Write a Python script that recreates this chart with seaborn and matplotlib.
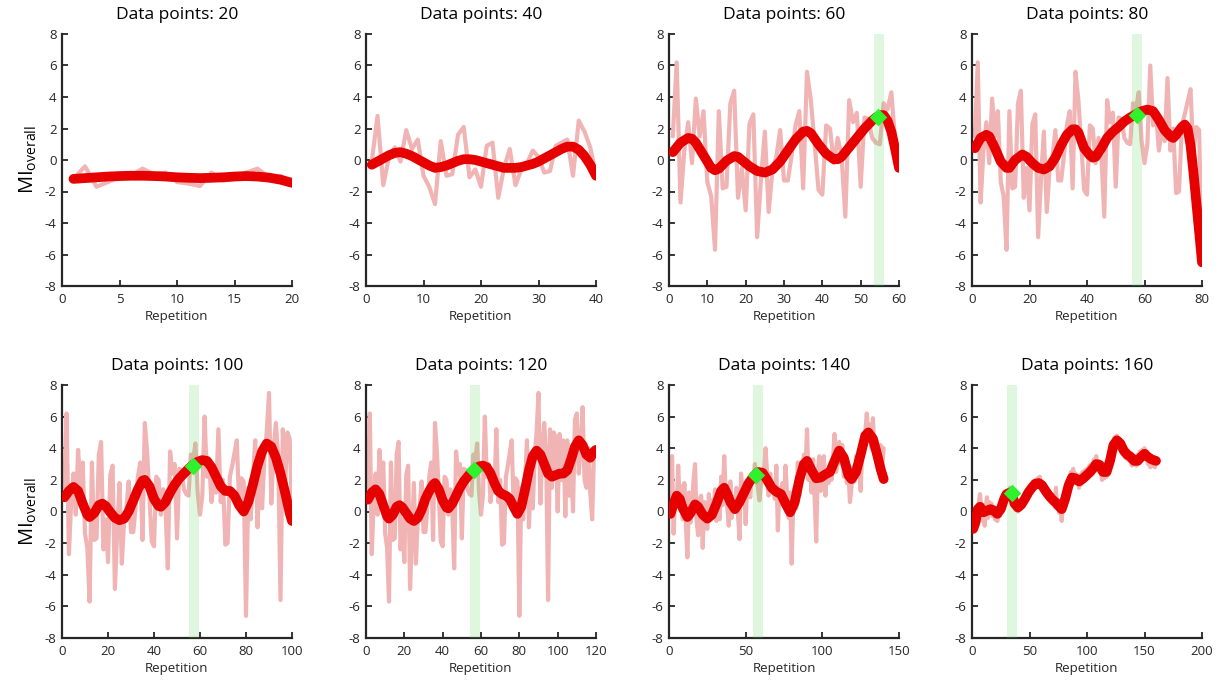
import numpy as np
import matplotlib
matplotlib.use("Agg")
import matplotlib.pyplot as plt
import seaborn as sns

# ---------------- data ----------------
raw20 = [-1.2, -0.4, -1.7, -1.4, -1.1, -1.0, -0.55, -0.9, -0.8, -1.4,
         -1.5, -1.65, -0.8, -1.3, -1.2, -0.8, -0.55, -1.1, -1.0, -1.5]
smooth20 = [-1.2, -1.15, -1.1, -1.05, -1.02, -1.0, -1.0, -1.02, -1.05, -1.1,
            -1.13, -1.15, -1.13, -1.1, -1.05, -1.02, -1.05, -1.12, -1.25, -1.45]

raw40 = [-0.1, 2.8, -1.6, 0.2, 0.8, -0.1, 1.9, 0.7, 1.3, -1.0,
         -1.7, -2.8, 1.2, -1.0, -0.9, 1.6, 2.1, -1.1, -0.6, -1.7,
         0.9, 1.1, -2.4, -0.5, 0.7, -1.6, -0.6, -0.2, 0.6, 0.2,
         -0.8, -0.7, 0.9, 1.1, 1.3, -1.0, 2.5, 1.8, 0.8, -1.0]
smooth40 = [-0.3, -0.1, 0.1, 0.3, 0.45, 0.5, 0.4, 0.25, 0.05, -0.15,
            -0.35, -0.5, -0.45, -0.35, -0.2, -0.05, 0.05, 0.05, 0.0, -0.1,
            -0.2, -0.3, -0.4, -0.5, -0.5, -0.5, -0.45, -0.35, -0.25, -0.1,
            0.1, 0.3, 0.5, 0.7, 0.85, 0.85, 0.65, 0.25, -0.3, -1.0]

# raw series shared by the 60 / 80 / 100 / 120 panels (first n values)
raw_shared = [1.5, 6.2, -2.7, 0.6, 2.4, -0.2, 3.9, 1.5, 3.1, -1.4,
              -2.3, -5.7, 3.1, -1.8, -1.7, 3.6, 4.4, -2.4, -0.5, -3.2,
              2.3, 2.9, -4.9, -1.2, 1.8, -3.3, -0.6, 0.2, 1.9, -1.3,
              -1.3, 0.3, 2.2, 3.1, -1.8, 5.6, 3.8, 1.0, -1.9, -2.2,
              2.2, 2.0, -0.2, 1.4, 0.3, -3.6, 3.8, 2.4, 3.0, -1.7,
              2.7, 2.6, 1.4, 1.1, 1.0, 3.6, 3.2, 4.3, 1.2, -0.2,
              1.0, 6.0, 2.2, 3.0, 0.6, 2.0, 1.2, 5.2, 0.6, 2.0,
              -2.1, -2.0, 2.2, 2.9, 3.7, 4.5, 0.5, 2.1, 1.9, -6.6,
              1.5, -0.5, 2.0, 4.5, -1.0, 2.5, 0.2, 3.5, 5.0, 7.5,
              0.5, 4.0, 5.6, 3.5, -5.6, 5.2, 1.5, 5.0, 4.6, 0.0,
              4.9, 2.0, 4.5, -0.3, 4.5, 1.0, 3.0, 0.0, 5.8, 6.2,
              2.4, 4.0, 6.6, 2.0, 1.5, 4.0, 1.2, -0.5, 4.0, 3.8]

smooth60_x = [1, 3, 5, 6, 7, 9, 11, 12, 13, 15, 17, 18, 19, 21, 23, 25, 27, 29, 31, 33,
              35, 36, 37, 39, 41, 43, 44, 45, 47, 49, 51, 53, 54, 55, 56, 57, 58, 59, 60]
smooth60_y = [0.5, 1.1, 1.4, 1.35, 1.1, 0.3, -0.5, -0.65, -0.55, -0.05, 0.25, 0.2, 0.0, -0.4,
              -0.7, -0.8, -0.6, -0.1, 0.6, 1.3, 1.8, 1.85, 1.7, 1.0, 0.4, 0.05, 0.05, 0.2,
              0.8, 1.4, 2.0, 2.5, 2.7, 2.85, 2.85, 2.5, 1.8, 0.7, -0.5]

smooth80_x = [1, 3, 5, 6, 8, 10, 12, 13, 15, 17.5, 19, 21, 23, 25, 27, 29, 31, 33, 35, 36,
              37, 39, 41, 42, 43, 45, 47, 49, 51, 53, 55, 57, 59, 61, 63, 65, 67, 69, 70, 71,
              73, 74, 75, 76, 77, 78, 79, 80]
smooth80_y = [0.75, 1.4, 1.6, 1.5, 0.75, -0.1, -0.5, -0.5, 0.0, 0.35, 0.2, -0.2, -0.5, -0.6,
              -0.4, 0.15, 0.95, 1.6, 1.95, 1.95, 1.75, 0.75, 0.3, 0.15, 0.2, 0.75, 1.4, 1.8,
              2.1, 2.45, 2.7, 2.9, 3.1, 3.2, 3.1, 2.55, 1.9, 1.5, 1.4, 1.6, 2.1, 2.25, 2.0,
              0.95, -0.75, -2.65, -4.55, -6.5]

smooth100_x = [1, 3, 5, 7, 9, 11, 12, 14, 16, 17.5, 19, 21, 23, 25, 27, 29, 31, 33, 35, 36,
               38, 40, 42, 43, 45, 47, 49, 51, 53, 55, 57, 59, 61, 63, 65, 67, 69, 71, 73, 75,
               77, 79, 81, 83, 85, 87, 89, 91, 93, 95, 97, 99, 100]
smooth100_y = [0.9, 1.3, 1.55, 1.3, 0.5, -0.2, -0.35, -0.1, 0.4, 0.5, 0.35, -0.05, -0.4, -0.55,
               -0.45, 0.0, 0.7, 1.4, 1.95, 2.0, 1.6, 0.8, 0.35, 0.3, 0.6, 1.2, 1.7, 2.1, 2.4,
               2.7, 2.95, 3.15, 3.25, 3.2, 2.8, 2.2, 1.6, 1.3, 1.3, 1.0, 0.4, 0.0, 0.6, 1.7,
               2.9, 3.8, 4.3, 4.1, 3.4, 2.4, 1.2, -0.1, -0.6]

smooth120_x = [1, 3, 5, 7, 9, 11, 12, 14, 16, 17.5, 19, 21, 23, 25, 27, 29, 31, 33, 35, 36,
               38, 40, 42, 43, 45, 47, 49, 51, 53, 55, 57, 59, 61, 63, 65, 67, 69, 71, 73, 75,
               77, 79, 81, 83, 85, 87, 89, 91, 93, 95, 97, 99, 101, 103, 105, 107, 109, 111,
               113, 115, 117, 119, 120]
smooth120_y = [0.75, 1.2, 1.4, 1.1, 0.4, -0.3, -0.45, -0.2, 0.3, 0.4, 0.25, -0.1, -0.45, -0.6,
               -0.4, 0.1, 0.8, 1.3, 1.7, 1.8, 1.4, 0.7, 0.25, 0.2, 0.5, 1.0, 1.5, 1.9, 2.2,
               2.5, 2.7, 2.85, 2.9, 2.8, 2.4, 1.8, 1.3, 1.1, 1.0, 0.8, 0.3, -0.15, 0.3, 1.4,
               2.6, 3.5, 3.85, 3.6, 3.0, 2.4, 2.2, 2.3, 2.4, 2.4, 2.6, 3.3, 4.1, 4.5, 4.2,
               3.6, 3.4, 3.8, 3.9]

raw140 = [0.2, 3.5, -1.4, 1.0, 0.3, 2.9, 0.5, 1.6, -0.5, 1.8,
          -0.8, -2.9, 1.2, -0.7, 0.4, 2.0, 3.0, -0.6, -1.5, 0.8,
          1.0, -2.3, 0.6, -0.4, -1.1, 1.1, -0.3, 0.7, -0.2, 1.4,
          -0.6, 0.5, -0.5, 2.2, 0.4, 3.5, 1.2, 0.3, -0.9, 1.9,
          -0.4, 0.9, 0.6, 1.5, -0.2, -1.75, 2.4, 1.0, 1.8, -0.8,
          1.9, 1.6, 0.9, 2.4, 2.0, 3.0, 2.2, 1.5, 0.7, 1.8,
          2.2, 2.5, 4.0, 2.3, 1.0, 2.4, 1.2, 1.8, 0.8, 2.9,
          -1.2, 1.5, 0.6, 1.8, 0.4, 2.9, 1.0, -0.4, 1.2, -3.3,
          0.6, 1.5, 0.2, 3.1, 1.0, 2.8, 2.2, 3.6, 2.5, 5.2,
          2.0, 3.0, 1.2, 3.3, 0.8, -1.9, 2.5, 3.5, 1.3, 2.5,
          3.5, 1.0, 2.6, 1.8, 3.0, 2.0, 3.4, 4.9, 2.5, 3.3,
          4.4, 3.0, 4.2, 2.2, 3.0, 1.8, 2.6, 0.6, 1.5, 2.8,
          1.9, 3.5, 2.2, 3.1, 1.3, 3.9, 4.2, 5.0, 6.2, 4.6,
          5.5, 4.0, 5.9, 3.7, 4.5, 3.8, 3.2, 4.2, 2.8, 4.0]
smooth140_x = [1, 3, 5, 7, 9, 12, 14, 17, 19, 22, 25, 28, 31, 34, 36, 38, 40, 43, 46, 49,
               52, 55, 58, 61, 64, 67, 70, 73, 76, 79, 82, 85, 88, 90, 93, 96, 99, 102, 105,
               108, 111, 114, 117, 119, 122, 125, 128, 130, 133, 136, 138, 140]
smooth140_y = [-0.15, 0.5, 1.0, 0.8, 0.2, -0.35, -0.1, 0.45, 0.3, -0.2, -0.45, -0.2, 0.5, 1.3,
               1.5, 1.1, 0.6, 0.15, 0.6, 1.2, 1.8, 2.2, 2.5, 2.45, 2.0, 1.5, 1.25, 1.1, 0.5,
               -0.05, 0.6, 2.0, 3.0, 3.2, 2.6, 2.1, 2.15, 2.35, 2.5, 3.2, 3.85, 3.4, 2.3,
               2.05, 2.5, 3.6, 4.8, 5.0, 4.6, 3.5, 2.7, 2.05]

raw160 = [-1.2, -0.6, -0.9, 0.2, -0.2, 0.6, 1.1, 0.2, -0.6, 0.4,
          -0.9, 0.3, 0.9, -0.4, 0.6, 0.0, 0.5, -0.3, 0.3, -0.5,
          0.2, -0.6, 0.1, -0.3, 0.5, 0.2, 0.9, 0.5, 1.2, 0.9,
          1.3, 1.0, 1.5, 0.9, 1.3, 0.6, 0.8, 0.1, 0.6, 0.0,
          0.5, 0.2, 0.8, 0.3, 1.0, 0.6, 1.2, 0.9, 1.5, 1.0,
          1.7, 1.3, 1.9, 1.5, 2.0, 1.6, 2.1, 1.6, 2.2, 1.5,
          1.9, 1.4, 1.6, 1.1, 1.5, 0.8, 1.3, 0.7, 1.1, 0.5,
          1.0, 0.3, 1.5, 0.2, 0.7, -0.1, 0.6, -0.6, 0.5, 0.9,
          0.5, 1.4, 1.2, 2.0, 1.6, 2.5, 1.9, 2.7, 1.8, 2.4,
          1.8, 2.2, 1.5, 2.3, 1.7, 2.5, 1.9, 2.6, 2.0, 2.7,
          2.1, 2.9, 2.3, 3.0, 2.4, 3.3, 2.7, 3.5, 2.6, 3.2,
          2.5, 3.0, 2.0, 2.8, 2.1, 2.7, 2.2, 2.9, 2.7, 3.4,
          3.5, 4.1, 4.0, 4.7, 4.3, 4.8, 4.2, 4.6, 4.0, 4.3,
          3.6, 4.1, 3.4, 3.9, 3.3, 3.8, 3.2, 3.7, 2.9, 3.5,
          3.0, 3.5, 2.9, 3.6, 3.1, 3.8, 3.3, 3.9, 3.3, 4.0,
          3.4, 3.8, 3.0, 3.6, 2.8, 3.5, 2.9, 3.4, 2.8, 3.3]
smooth160_x = [1, 3, 5, 7, 10, 13, 16, 19, 22, 25, 28, 30, 33, 35, 37, 40, 43, 46, 49, 52,
               55, 58, 61, 64, 67, 70, 73, 76, 78, 81, 84, 87, 90, 93, 96, 99, 102, 105, 108,
               111, 114, 117, 120, 123, 126, 129, 132, 135, 138, 141, 144, 147, 150, 153,
               156, 160]
smooth160_y = [-1.1, -0.7, 0.15, 0.3, -0.05, 0.05, 0.15, 0.05, -0.15, 0.15, 0.8, 1.1, 1.2,
               1.1, 0.5, 0.25, 0.45, 0.8, 1.2, 1.5, 1.75, 1.8, 1.65, 1.3, 1.0, 0.75, 0.55,
               0.3, 0.15, 0.8, 1.65, 2.15, 2.1, 1.9, 2.05, 2.25, 2.45, 2.7, 3.0, 2.95, 2.5,
               2.5, 3.2, 4.2, 4.5, 4.3, 3.85, 3.6, 3.45, 3.2, 3.2, 3.45, 3.65, 3.45, 3.3, 3.2]

n_points = [20, 40, 60, 80, 100, 120, 140, 160]
x_max = [20, 40, 60, 80, 100, 120, 150, 200]
x_ticks = [[0, 5, 10, 15, 20], [0, 10, 20, 30, 40], [0, 10, 20, 30, 40, 50, 60],
           [0, 20, 40, 60, 80], [0, 20, 40, 60, 80, 100], [0, 20, 40, 60, 80, 100, 120],
           [0, 50, 100, 150], [0, 50, 100, 150, 200]]
y_ticks = [-8, -6, -4, -2, 0, 2, 4, 6, 8]

raw_series = [raw20, raw40, raw_shared[:60], raw_shared[:80], raw_shared[:100],
              raw_shared[:120], raw140, raw160]
smooth_x = [list(range(1, 21)), list(range(1, 41)), smooth60_x, smooth80_x,
            smooth100_x, smooth120_x, smooth140_x, smooth160_x]
smooth_y = [smooth20, smooth40, smooth60_y, smooth80_y, smooth100_y,
            smooth120_y, smooth140_y, smooth160_y]

# change-point markers (None = no marker)
band_lo = [None, None, 53.5, 55.8, 55.1, 54.4, 54.8, 30.4]
band_hi = [None, None, 56.1, 59.3, 59.6, 59.6, 61.1, 39.1]
mark_x = [None, None, 54.6, 57.4, 57.1, 56.6, 56.5, 34.6]
mark_y = [None, None, 2.75, 2.85, 2.9, 2.6, 2.3, 1.2]

# ---------------- style ----------------
sns.set_theme(style="ticks")
plt.rcParams['font.family'] = ['Open Sans', 'DejaVu Sans']
plt.rcParams['axes.unicode_minus'] = False
plt.rcParams['mathtext.fontset'] = 'custom'
plt.rcParams['mathtext.rm'] = 'Open Sans'

PINK = '#f0b4b4'
RED = '#e60000'
GREEN = '#2ef22e'
BAND = '#5fd35f'
SPINE = '#262626'
TXT = '#262626'

fig = plt.figure(figsize=(12.2, 6.8), dpi=100)
W, H = 1220.0, 680.0
lefts = [62, 366, 669, 972]
rows = [(34, 286), (385, 638)]

for i in range(8):
    r, c = divmod(i, 4)
    top, bot = rows[r]
    ax = fig.add_axes([lefts[c] / W, 1 - bot / H, 230 / W, (bot - top) / H])
    n = n_points[i]
    xr = np.arange(1, n + 1)
    sns.lineplot(x=xr, y=raw_series[i], ax=ax, color=PINK, linewidth=3.0,
                 estimator=None, sort=False, zorder=2)
    if band_lo[i] is not None:
        ax.axvspan(band_lo[i], band_hi[i], color=BAND, alpha=0.2, lw=0, zorder=3)
    sns.lineplot(x=smooth_x[i], y=smooth_y[i], ax=ax, color=RED, linewidth=7.0,
                 estimator=None, sort=False, zorder=4)
    if mark_x[i] is not None:
        sns.scatterplot(x=[mark_x[i]], y=[mark_y[i]], ax=ax, color=GREEN, marker='D',
                        s=80, linewidth=0, zorder=5)
    ax.set_xlim(0, x_max[i])
    ax.set_ylim(-8, 8)
    ax.set_xticks(x_ticks[i])
    ax.set_xticklabels([str(t) for t in x_ticks[i]])
    ax.set_yticks(y_ticks)
    ax.set_yticklabels([str(t) for t in y_ticks])
    for s in ['top', 'right']:
        ax.spines[s].set_visible(False)
    for s in ['left', 'bottom']:
        ax.spines[s].set_color(SPINE)
        ax.spines[s].set_linewidth(1.6)
    ax.tick_params(direction='in', length=4, width=1.3, color=SPINE,
                   labelsize=9.5, labelcolor=TXT)
    ax.tick_params(axis='x', pad=5)
    ax.tick_params(axis='y', pad=4)
    ax.set_xlabel('Repetition', fontsize=9.5, color=TXT, labelpad=3)
    if c == 0:
        ax.set_ylabel(r'MI$_{\mathregular{overall}}$', fontsize=14.5, color='black', labelpad=4)
    else:
        ax.set_ylabel('')
    ax.set_title('Data points: %d' % n, fontsize=12.5, color='black', pad=11)
    ax.grid(False)
    ax.set_facecolor('white')

fig.savefig('out.png', dpi=100, facecolor='white')
